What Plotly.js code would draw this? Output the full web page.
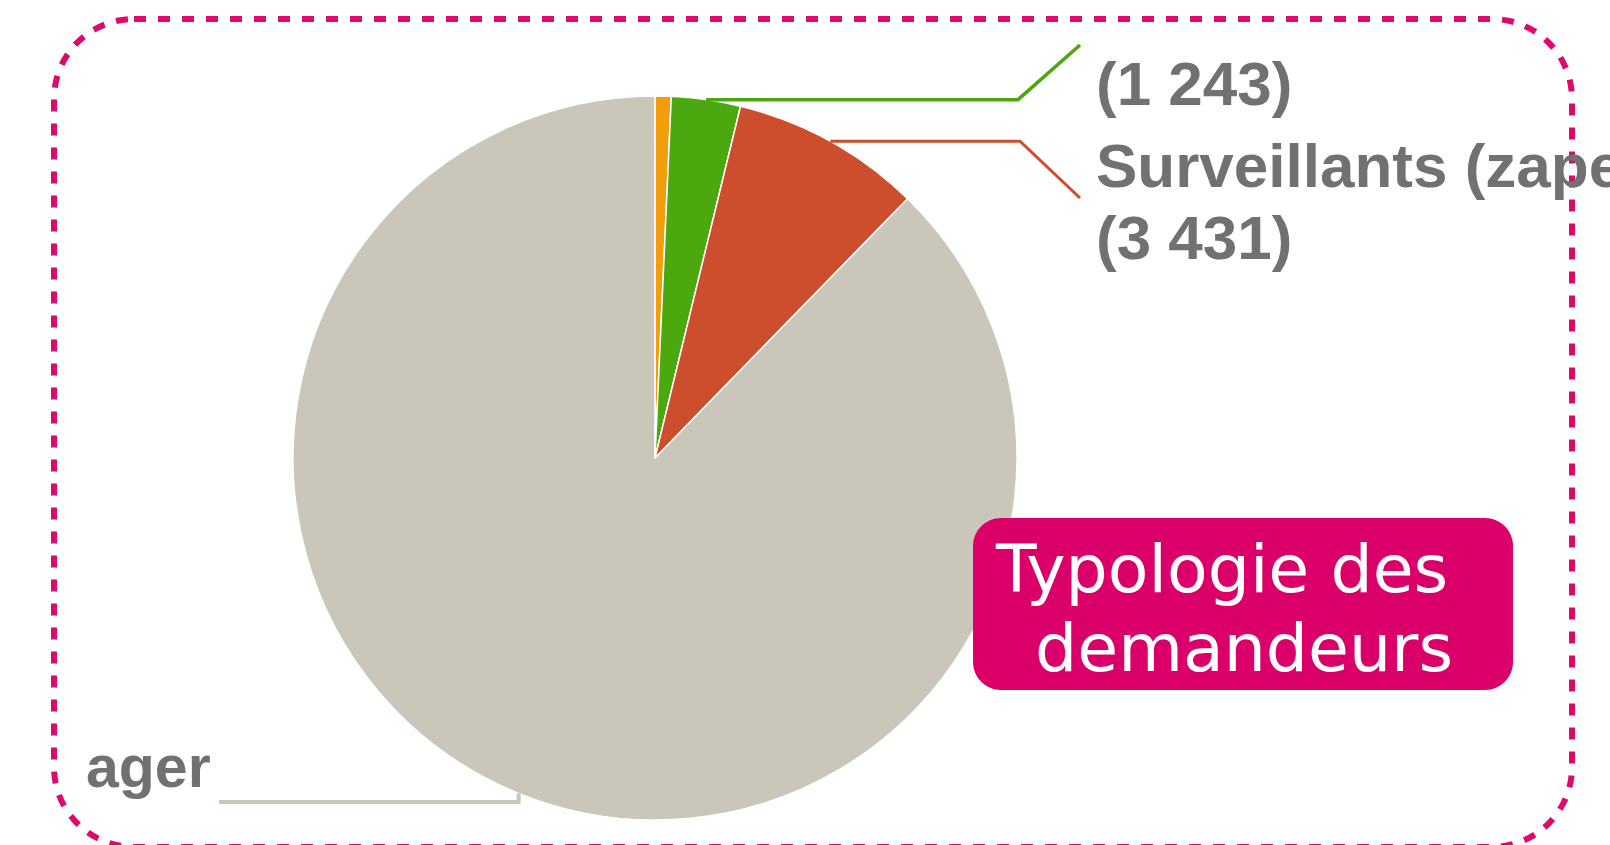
<!DOCTYPE html>
<html>
<head>
<meta charset="utf-8">
<script src="https://cdn.plot.ly/plotly-3.0.1.min.js"></script>
<style>
  html, body { margin: 0; padding: 0; background: #ffffff; }
  #chart { width: 1610px; height: 845px; }
</style>
</head>
<body>
<div id="chart"></div>
<script>
// ---- data ----
const categories = ["Autres", "Catégorie 2", "Surveillants (zapeurs)", "Usager"];
const values = [290, 1243, 3431, 35418];
const sliceColors = ["#F29D0C", "#4BA80E", "#CC4E2C", "#CAC6B9"];
const titleLines = ["Typologie des\u00a0", "demandeurs"];

// ---- layout constants (pixels) ----
const W = 1610, H = 845;
const CX = 655, CY = 458, R = 362;
const PX = x => x / W;
const PY = y => 1 - y / H;

function fmt(n) { return "(" + String(n).replace(/\B(?=(\d{3})+(?!\d))/g, "\u00a0") + ")"; }

const total = values.reduce((a, b) => a + b, 0);
function arcPoint(i) {
  let cum = 0;
  for (let k = 0; k < i; k++) cum += values[k];
  const ang = (cum + values[i] / 2) / total * 2 * Math.PI;
  return [CX + R * Math.sin(ang), CY - R * Math.cos(ang)];
}
function pathPx(pts) {
  return pts.map((p, k) => (k ? "L" : "M") + PX(p[0]).toFixed(5) + "," + PY(p[1]).toFixed(5)).join(" ");
}
function roundRectPath(x0, y0, x1, y1, r) {
  const k = 0.5523 * r;
  const P = (x, y) => PX(x).toFixed(5) + "," + PY(y).toFixed(5);
  return "M" + P(x0 + r, y0) +
    " L" + P(x1 - r, y0) +
    " C" + P(x1 - r + k, y0) + " " + P(x1, y0 + r - k) + " " + P(x1, y0 + r) +
    " L" + P(x1, y1 - r) +
    " C" + P(x1, y1 - r + k) + " " + P(x1 - r + k, y1) + " " + P(x1 - r, y1) +
    " L" + P(x0 + r, y1) +
    " C" + P(x0 + r - k, y1) + " " + P(x0, y1 - r + k) + " " + P(x0, y1 - r) +
    " L" + P(x0, y0 + r) +
    " C" + P(x0, y0 + r - k) + " " + P(x0 + r - k, y0) + " " + P(x0 + r, y0) + " Z";
}

const trace = {
  type: "pie",
  labels: categories,
  values: values,
  sort: false,
  direction: "clockwise",
  rotation: 0,
  textinfo: "none",
  hoverinfo: "label+value",
  marker: { colors: sliceColors, line: { color: "#ffffff", width: 1.5 } },
  domain: { x: [PX(CX - R), PX(CX + R)], y: [PY(CY + R), PY(CY - R)] },
  showlegend: false
};

const g = arcPoint(1), r = arcPoint(2), s = arcPoint(3);
const shapes = [
  { type: "path", xref: "paper", yref: "paper", layer: "above",
    path: pathPx([g, [1018, g[1]], [1080, 45]]),
    line: { color: sliceColors[1], width: 3.5 } },
  { type: "path", xref: "paper", yref: "paper", layer: "above",
    path: pathPx([r, [1020, r[1]], [1080, 198]]),
    line: { color: sliceColors[2], width: 3 } },
  { type: "path", xref: "paper", yref: "paper", layer: "above",
    path: pathPx([s, [s[0], 802], [219, 802]]),
    line: { color: sliceColors[3], width: 4 } },
  { type: "path", xref: "paper", yref: "paper", layer: "above",
    path: roundRectPath(973, 518, 1513, 690, 28),
    fillcolor: "#DB0069", line: { width: 0 } },
  { type: "path", xref: "paper", yref: "paper", layer: "above",
    path: roundRectPath(54, 19, 1572, 847, 80),
    fillcolor: "rgba(0,0,0,0)", line: { color: "#DB0A6B", width: 6, dash: "12px,12px" } }
];

const labFont = { family: "Liberation Sans, Arial, sans-serif", size: 62, color: "#717171", weight: "bold" };
const boxFont = { family: "DejaVu Sans, Verdana, sans-serif", size: 66.5, color: "#ffffff" };
const annotations = [
  { x: PX(1094), y: PY(83), xref: "paper", yref: "paper", xanchor: "left", yanchor: "middle",
    text: fmt(values[1]), showarrow: false, font: labFont },
  { x: PX(1094), y: PY(165), xref: "paper", yref: "paper", xanchor: "left", yanchor: "middle",
    text: categories[2], showarrow: false, font: labFont },
  { x: PX(1094), y: PY(237), xref: "paper", yref: "paper", xanchor: "left", yanchor: "middle",
    text: fmt(values[2]), showarrow: false, font: labFont },
  { x: PX(213), y: PY(767), xref: "paper", yref: "paper", xanchor: "right", yanchor: "middle",
    text: categories[3].slice(-4), showarrow: false, font: { ...labFont, size: 59 } },
  { x: PX(1232), y: PY(569), xref: "paper", yref: "paper", xanchor: "center", yanchor: "middle",
    text: titleLines[0], showarrow: false, font: boxFont },
  { x: PX(1244), y: PY(648), xref: "paper", yref: "paper", xanchor: "center", yanchor: "middle",
    text: titleLines[1], showarrow: false, font: boxFont }
];

const layout = {
  width: W, height: H,
  margin: { l: 0, r: 0, t: 0, b: 0, pad: 0 },
  paper_bgcolor: "#ffffff",
  plot_bgcolor: "#ffffff",
  shapes: shapes,
  annotations: annotations,
  showlegend: false
};

Plotly.newPlot("chart", [trace], layout, { displayModeBar: false, staticPlot: true });
</script>
</body>
</html>
